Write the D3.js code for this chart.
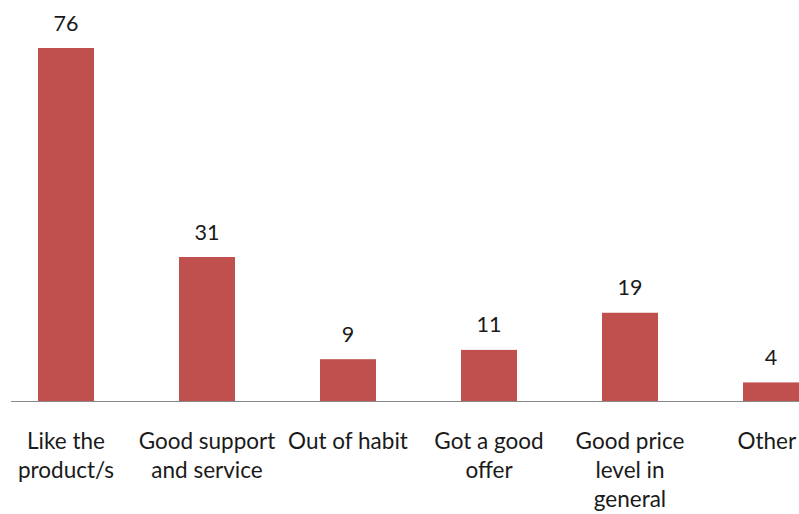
<!DOCTYPE html>
<html>
<head>
<meta charset="utf-8">
<script src="https://cdn.jsdelivr.net/npm/d3@7"></script>
<style>
  html, body { margin: 0; padding: 0; background: #fff; }
  svg { display: block; }
  text { font-family: Lato, "Open Sans", sans-serif; fill: #1a1a1a; }
</style>
</head>
<body>
<svg id="chart" width="799" height="514"></svg>
<script>
const categories = [
  "Like the product/s",
  "Good support and service",
  "Out of habit",
  "Got a good offer",
  "Good price level in general",
  "Other"
];
const categoryLines = [
  ["Like the", "product/s"],
  ["Good support", "and service"],
  ["Out of habit"],
  ["Got a good", "offer"],
  ["Good price", "level in", "general"],
  ["Other"]
];
const values = [76, 31, 9, 11, 19, 4];

const W = 799, H = 514;
const baseY = 401;
const svg = d3.select("#chart");

const x = d3.scaleBand()
  .domain(categories)
  .range([-4.5, 841.5])
  .paddingInner(0.603)
  .paddingOuter(0.3015);

const y = d3.scaleLinear()
  .domain([0, 76])
  .range([baseY, 48]);

svg.append("g")
  .selectAll("rect")
  .data(values)
  .join("rect")
  .attr("x", (d, i) => x(categories[i]))
  .attr("width", x.bandwidth())
  .attr("y", d => y(d))
  .attr("height", d => baseY - y(d))
  .attr("fill", "#C0504D");

// axis line
svg.append("line")
  .attr("x1", 11).attr("x2", W)
  .attr("y1", baseY + 0.5).attr("y2", baseY + 0.5)
  .attr("stroke", "#888888")
  .attr("stroke-width", 1);

// value labels
svg.append("g")
  .selectAll("text")
  .data(values)
  .join("text")
  .attr("x", (d, i) => x(categories[i]) + x.bandwidth() / 2)
  .attr("y", d => y(d) - 17.5)
  .attr("text-anchor", "middle")
  .style("font-size", "21.5px")
  .text(d => d);

// category labels
const lab = svg.append("g")
  .selectAll("text")
  .data(categories)
  .join("text")
  .attr("y", 448.5)
  .attr("text-anchor", "middle")
  .style("font-size", "22.5px");

lab.each(function(d, i) {
  const t = d3.select(this);
  let cx = x(d) + x.bandwidth() / 2;
  categoryLines[i].forEach((line, k) => {
    t.append("tspan")
      .attr("x", cx)
      .attr("dy", k === 0 ? 0 : 29)
      .text(line);
  });
  // keep label inside the picture
  const bb = this.getBBox();
  const over = bb.x + bb.width - (W - 2);
  if (over > 0) {
    cx -= over;
    t.selectAll("tspan").attr("x", cx);
  }
});
</script>
</body>
</html>
